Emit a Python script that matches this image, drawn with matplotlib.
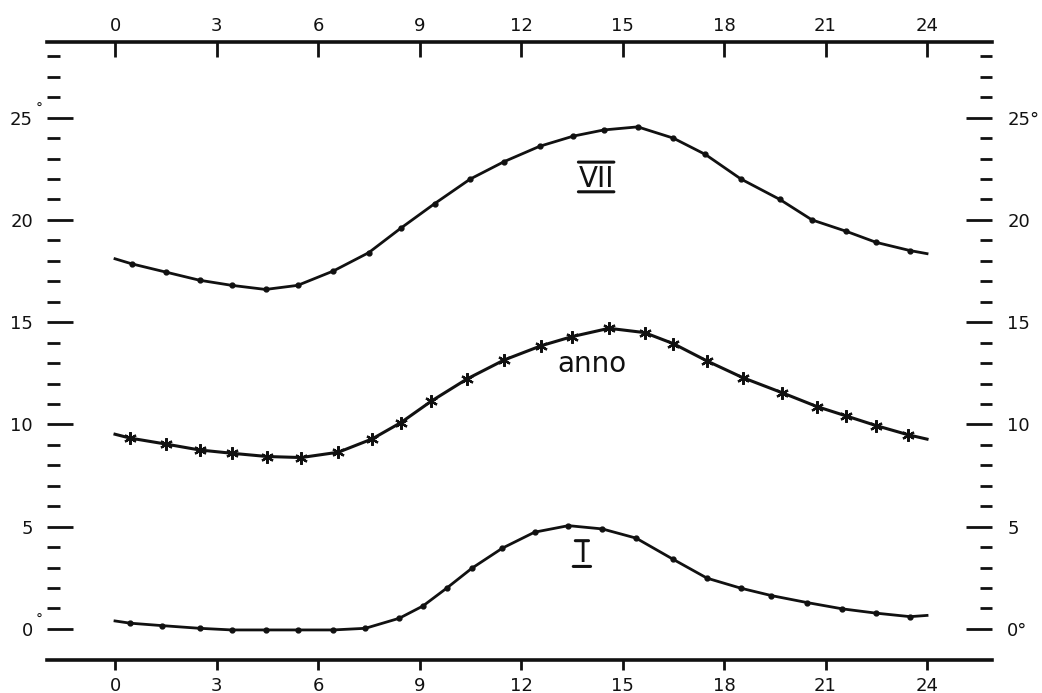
import numpy as np
import matplotlib.pyplot as plt
from matplotlib.ticker import FixedLocator
from matplotlib.transforms import ScaledTranslation

# daily temperature course, hour of day vs deg C
# first and last entries are where the drawn line starts/ends (no marker)
hours_VII = [0, 0.5, 1.5, 2.5, 3.45, 4.45, 5.4, 6.45, 7.5, 8.45, 9.45, 10.5, 11.5,
             12.55, 13.55, 14.45, 15.45, 16.5, 17.45, 18.5, 19.65, 20.6, 21.6,
             22.5, 23.5, 24]
temp_VII = [18.1, 17.85, 17.45, 17.05, 16.8, 16.6, 16.8, 17.5, 18.4, 19.6, 20.8, 22.0,
            22.85, 23.6, 24.1, 24.4, 24.55, 24.0, 23.2, 22.0, 21.0, 20.0, 19.45,
            18.9, 18.5, 18.35]

hours_anno = [0, 0.45, 1.5, 2.5, 3.45, 4.5, 5.5, 6.6, 7.6, 8.45, 9.35, 10.4, 11.5,
              12.6, 13.5, 14.6, 15.65, 16.5, 17.5, 18.55, 19.7, 20.75, 21.6, 22.5,
              23.45, 24]
temp_anno = [9.52, 9.33, 9.04, 8.75, 8.59, 8.43, 8.38, 8.64, 9.29, 10.09, 11.14, 12.22,
             13.15, 13.85, 14.29, 14.70, 14.49, 13.95, 13.1, 12.29, 11.56, 10.87, 10.42,
             9.94, 9.49, 9.28]

hours_I = [0, 0.45, 1.4, 2.5, 3.45, 4.45, 5.4, 6.45, 7.4, 8.4, 9.1, 9.8, 10.55, 11.45,
           12.4, 13.4, 14.4, 15.4, 16.5, 17.5, 18.5, 19.4, 20.45, 21.5, 22.5, 23.5, 24]
temp_I = [0.39, 0.28, 0.16, 0.03, -0.05, -0.05, -0.05, -0.05, 0.03, 0.52, 1.12, 1.99,
          2.97, 3.95, 4.73, 5.05, 4.89, 4.44, 3.4, 2.48, 1.99, 1.63, 1.29, 0.98, 0.77,
          0.6, 0.66]

hour_ticks = list(range(0, 25, 3))
temp_ticks = [0, 5, 10, 15, 20, 25]
right_labels = ['0°', '5', '10', '15', '20', '25°']
minor_temps = [v for v in range(29) if v % 5]

ink = '#111111'
fs = 13

fig = plt.figure(figsize=(10.42, 6.93), dpi=100)
ax = fig.add_axes([47/1042, 33/693, 945/1042, 618/693])
ax.set_xlim(-2.01, 25.92)
ax.set_ylim(-1.52, 28.7)

for s in ['left', 'right']:
    ax.spines[s].set_visible(False)
ax.spines['top'].set_visible(False)
ax.spines['bottom'].set_linewidth(2.6)
ax.spines['bottom'].set_color(ink)

# bottom hour axis
ax.set_xticks(hour_ticks)
ax.tick_params(axis='x', direction='out', length=7, width=2, pad=5,
               labelsize=fs, color=ink, labelcolor=ink)

# top hour axis
top = ax.secondary_xaxis('top')
top.set_xticks(hour_ticks)
top.tick_params(direction='in', length=11, width=2, pad=5, labelsize=fs,
                color=ink, labelcolor=ink)
top.spines['top'].set_linewidth(2.6)
top.spines['top'].set_color(ink)

# left temperature scale
ax.set_yticks(temp_ticks)
ax.yaxis.set_minor_locator(FixedLocator(minor_temps))
ax.tick_params(axis='y', which='major', direction='in', length=19, width=2, pad=10,
               labelsize=fs, color=ink, labelcolor=ink)
ax.tick_params(axis='y', which='minor', direction='in', length=9, width=2, color=ink)
deg_off = ScaledTranslation(-0.11, 0.05, fig.dpi_scale_trans)
for v in (0, 25):
    ax.text(0, v, '°', transform=ax.get_yaxis_transform() + deg_off,
            fontsize=10, ha='left', va='baseline', color=ink)

# right temperature scale
ax2 = ax.twinx()
ax2.set_ylim(ax.get_ylim())
for s in ax2.spines.values():
    s.set_visible(False)
ax2.set_yticks(temp_ticks)
ax2.set_yticklabels(right_labels)
ax2.yaxis.set_minor_locator(FixedLocator(minor_temps))
ax2.tick_params(axis='y', which='major', direction='in', length=19, width=2, pad=11,
                labelsize=fs, color=ink, labelcolor=ink)
ax2.tick_params(axis='y', which='minor', direction='in', length=9, width=2, color=ink)

# curves
ax.plot(hours_VII, temp_VII, color=ink, lw=2.0, marker='o', ms=3.5,
        markevery=slice(1, -1))
ax.plot(hours_anno, temp_anno, color=ink, lw=2.2, marker=(6, 2, 0), ms=9, mew=1.6,
        markevery=slice(1, -1))
ax.plot(hours_I, temp_I, color=ink, lw=2.0, marker='o', ms=3.5,
        markevery=slice(1, -1))


def roman(x, y, s, over, under):
    t = ax.text(x, y, s, fontsize=20, ha='center', va='baseline', color=ink)
    for x0, x1, yf in (over, under):
        ax.annotate('', xy=(x1, yf), xycoords=t, xytext=(x0, yf), textcoords=t,
                    arrowprops=dict(arrowstyle='-', lw=2.2, color=ink,
                                    shrinkA=0, shrinkB=0))


roman(14.22, 21.6, 'VII', (0, 1, 1.11), (0, 1, 0.05))
roman(13.8, 3.28, 'I', (-0.3, 1.3, 0.97), (-0.55, 1.55, 0.05))
ax.text(14.1, 12.57, 'anno', fontsize=20, ha='center', va='baseline', color=ink)

fig.savefig('out.png', dpi=100, facecolor='white')
